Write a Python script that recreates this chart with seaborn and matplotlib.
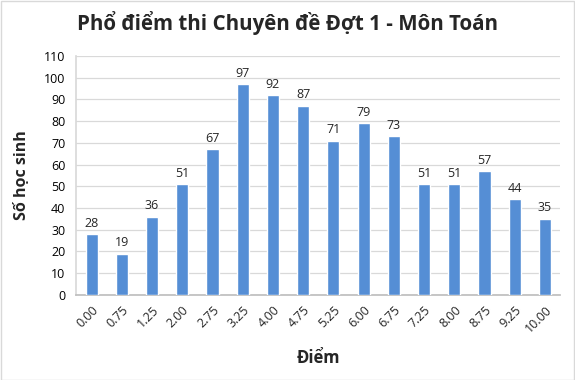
import matplotlib
matplotlib.use("Agg")
import matplotlib.pyplot as plt
import seaborn as sns
import pandas as pd
import numpy as np

categories = ["0.00", "0.75", "1.25", "2.00", "2.75", "3.25", "4.00", "4.75",
              "5.25", "6.00", "6.75", "7.25", "8.00", "8.75", "9.25", "10.00"]
values = [28, 19, 36, 51, 67, 97, 92, 87, 71, 79, 73, 51, 51, 57, 44, 35]
title = "Phổ điểm thi Chuyên đề Đợt 1 - Môn Toán"
xlabel = "Điểm"
ylabel = "Số học sinh"

sns.set_theme(style="white")
plt.rcParams['font.family'] = ['Open Sans', 'DejaVu Sans']

df = pd.DataFrame({"cat": categories, "val": values})

fig = plt.figure(figsize=(5.75, 3.8), dpi=100)
ax = fig.add_axes([0.133, 0.224, 0.841, 0.629])
sns.barplot(data=df, x="cat", y="val", color="#558ED5", width=0.4,
            saturation=1, ax=ax, zorder=3)

ax.set_ylim(0, 110)
ax.set_yticks(np.arange(0, 111, 10))
ax.set_xlim(-0.5, len(categories) - 0.5)
ax.grid(axis="y", color="#D9D9D9", linewidth=0.9, zorder=0)
ax.set_axisbelow(True)

for s in ["top", "right"]:
    ax.spines[s].set_visible(False)
ax.spines["left"].set_color("#D9D9D9")
ax.spines["bottom"].set_color("#BFBFBF")

ax.tick_params(axis="y", length=0, labelsize=9, colors="black", pad=8)
ax.tick_params(axis="x", which="major", length=0, labelsize=9, pad=6)
ax.set_xticks(np.arange(-0.5, len(categories)), minor=True)
ax.tick_params(axis="x", which="minor", length=4, color="#BFBFBF", width=0.9)
plt.setp(ax.get_xticklabels(), rotation=45, ha="right", rotation_mode="anchor")

for i, v in enumerate(values):
    ax.text(i, v + 2, str(v), ha="center", va="bottom", fontsize=9)

ax.set_xlabel(xlabel, fontsize=12, fontweight="bold", labelpad=10)
ax.set_ylabel(ylabel, fontsize=11.5, fontweight="bold", labelpad=10)
fig.text(0.5, 0.94, title, ha="center", va="center", fontsize=14.8, fontweight="bold")

fig.patches.append(plt.Rectangle((0.001, 0.001), 0.997, 0.997, transform=fig.transFigure,
                                 fill=False, edgecolor="#D9D9D9", linewidth=1))
fig.savefig("out.png", dpi=100)
